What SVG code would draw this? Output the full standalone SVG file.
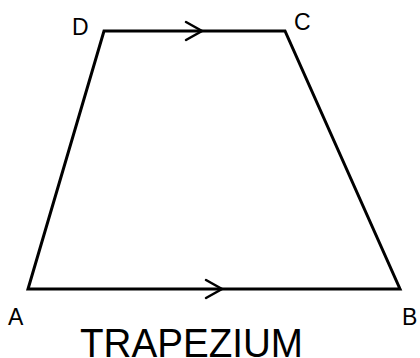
<svg xmlns="http://www.w3.org/2000/svg" width="420" height="358" viewBox="0 0 420 358">
<style>
.edge{fill:none;stroke:#000;stroke-width:3;stroke-linejoin:miter}
.chev{fill:none;stroke:#000;stroke-width:2.5;stroke-linecap:round;stroke-linejoin:miter}
.lbl{font-family:"Liberation Sans",Arial,sans-serif;font-size:23px;fill:#000}
.title{font-family:"Liberation Sans",Arial,sans-serif;font-size:40px;fill:#000}
</style>
<rect width="420" height="358" fill="#fff"/>
<g id="connectors">
<polygon class="edge" points="28,289 400,289 285,31 104,31"/>
<polyline class="chev" points="186,22 202,31 186,40"/>
<polyline class="chev" points="206,280 222,289 206,298"/>
</g>
<g id="node-D"><text class="lbl" x="72" y="35">D</text></g>
<g id="node-C"><text class="lbl" x="294" y="30">C</text></g>
<g id="node-A"><text class="lbl" x="8" y="325">A</text></g>
<g id="node-B"><text class="lbl" x="402" y="325">B</text></g>
<g id="title"><text class="title" x="80" y="357" textLength="223" lengthAdjust="spacingAndGlyphs">TRAPEZIUM</text></g>
</svg>
